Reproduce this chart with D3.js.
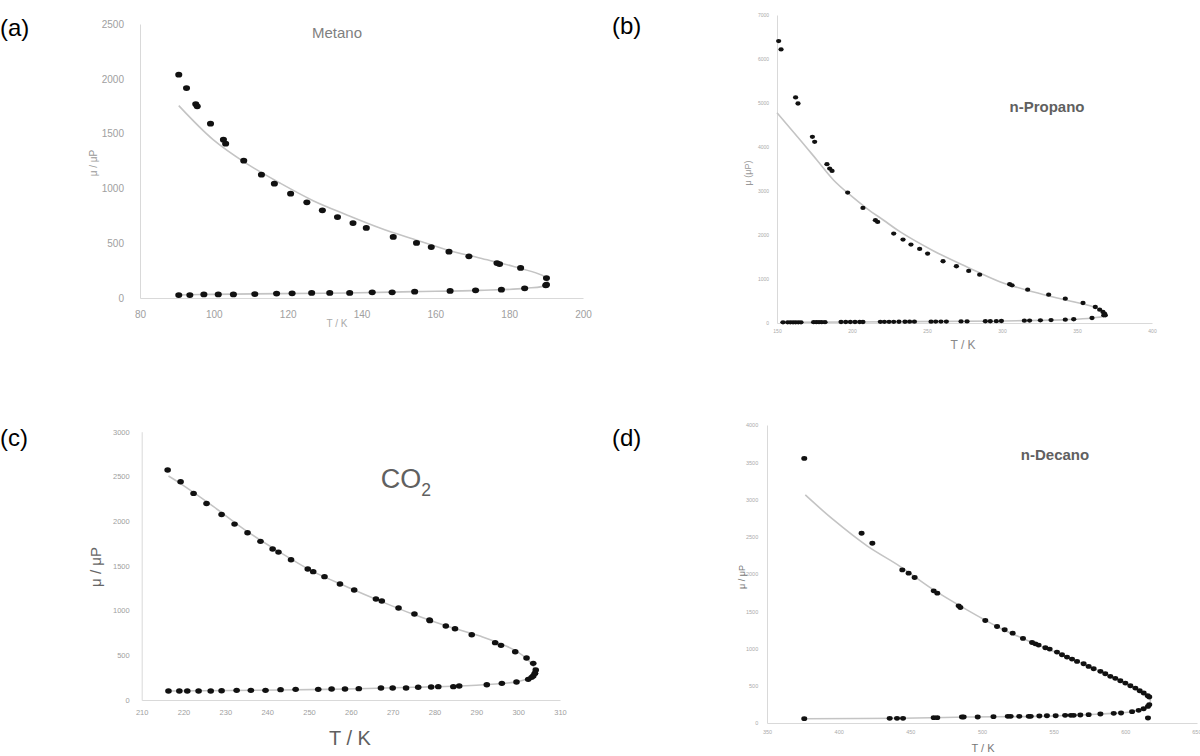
<!DOCTYPE html>
<html><head><meta charset="utf-8">
<script src="https://cdn.jsdelivr.net/npm/d3@7"></script>
<style>body{margin:0;background:#fff;} svg{display:block;font-family:"Liberation Sans",Arial,sans-serif;}</style>
</head><body>
<svg id="c" width="1200" height="756"></svg>
<script>
// ---------- (a) Metano ----------
const metLiqT  = [90.5,92.6,95.1,95.5,99.1,102.6,103.2,108.1,112.9,116.4,120.8,125.2,129.4,133.5,137.7,141.3,148.6,154.9,158.9,163.7,169.1,176.7,177.4,183.1,190.1];
const metLiqMu = [2038,1916,1770,1749,1590,1445,1408,1253,1125,1043,952,873,800,739,684,639,557,502,465,423,380,319,310,274,182];
const metVapT  = [90.5,93.5,97.3,101.2,105.3,111.1,117,121.2,126.5,131.4,136.8,142.9,148.3,154.4,164,170.9,177.9,184.2,189.9,190.1];
const metVapMu = [27,27,33,33,33,36,40,43,46,46,46,52,52,58,64,70,76,88,116,122];
const metFitT  = [90.5,99.8,108.9,117.9,126.9,135.9,145,154,163,172,181,190.1,190.1,184.2,172,154,136,118,99,90.5];
const metFitMu = [1755,1445,1226,1049,888,760,639,538,441,365,289,182,122,88,70,58,46,40,33,27];
const metXTicks = [80,100,120,140,160,180,200];
const metYTicks = [0,500,1000,1500,2000,2500];

// ---------- (b) n-Propano ----------
const proLiqT  = [151.1,152.7,162.4,164,173.6,175.1,183.3,185.1,186.7,197.1,207.3,215.6,217.1,227.8,234,239.3,245.1,250.4,260.7,269.6,277.8,285.1,305.1,306.7,317.1,331.1,342.2,354,362.2,365.1,367.3,368.4,368.9];
const proLiqMu = [6407,6217,5126,4989,4231,4117,3609,3510,3457,2965,2616,2335,2297,2032,1896,1782,1683,1577,1403,1289,1183,1099,880,857,758,644,553,455,364,303,250,212,174];
const proVapT  = [154,157.1,158.9,160.7,162.4,164.2,166,174.4,176.2,178,179.8,182,192.7,195.8,198.9,202,205.1,207.3,218.9,221.6,224.7,227.8,231.3,235.3,238.4,241.6,252.7,255.8,259.3,262.9,272.7,276.7,288.9,292.2,296.2,299.6,314.9,318.4,325.6,332.7,342.2,347.8,360,367.8];
const proVapMu = [15,15,15,15,15,15,15,18,18,18,18,18,22,22,22,22,22,22,26,26,26,26,28,28,30,30,30,32,32,32,36,36,40,40,42,45,52,55,60,66,76,85,114,174];
const proFitT  = [150,165.6,176.7,187.8,198.9,210,221.1,232.2,254.4,276.7,298.9,321.1,343.3,361.1,367.8,368.9,360,343,299,232,152];
const proFitMu = [4777,4155,3700,3245,2904,2601,2335,2070,1638,1274,933,705,516,364,250,174,114,76,45,30,15];
const proXTicks = [150,200,250,300,350,400];
const proYTicks = [0,1000,2000,3000,4000,5000,6000,7000];

// ---------- (c) CO2 ----------
const co2LiqT  = [216.2,219.3,222.4,225.5,229.1,232.2,235.3,238.4,241.3,242.7,245.7,249.7,251,253.7,257.4,260.8,266,267.4,271.4,275.2,278.8,278.9,282.7,284.9,288.9,294.5,295.9,299.3,302,303.6,304.2,304];
const co2LiqMu = [2571,2441,2310,2198,2075,1967,1870,1774,1688,1654,1569,1464,1435,1379,1297,1230,1129,1107,1028,961,894,887,827,797,730,641,611,540,469,410,335,298];
const co2VapT  = [216.4,219,220.9,223.6,226.5,229.1,232.7,236.1,239.6,243.2,246.8,252.2,255.4,258.6,261.9,267.2,270,273.2,276.1,279.2,280.9,284.5,285.9,292.5,296.1,299.6,302.4,303.2,303.6,304];
const co2VapMu = [101,101,101,101,101,104,108,108,108,116,119,119,123,123,127,134,134,134,142,145,149,149,157,171,186,201,231,253,268,298];
const co2FitT  = [216.4,219.2,227.1,235.1,243.1,251,259,267,274.9,282.9,290.9,298.8,302.8,304,303.8,302,298.8,290.9,274.9,259,243.1,216.4];
const co2FitMu = [2504,2422,2165,1889,1651,1435,1267,1107,958,827,715,566,428,335,268,231,197,168,142,123,112,101];
const co2XTicks = [210,220,230,240,250,260,270,280,290,300,310];
const co2YTicks = [0,500,1000,1500,2000,2500,3000];

// ---------- (d) n-Decano ----------
const decLiqT  = [376,416,423.5,444.4,448.8,453,466.3,468.8,483.7,484.9,502.3,510.5,515.8,521.4,528.6,534.9,537.2,539.5,544.2,547.2,552.3,555.8,559.3,562.8,566.3,570.9,574.4,577.9,582.6,586,589.5,593,596.5,600,603.5,607,610,612.8,615.6,616.7];
const decLiqMu = [3552,2547,2413,2055,2011,1953,1774,1743,1573,1550,1376,1296,1251,1206,1135,1081,1063,1046,1010,992,952,916,885,858,827,795,760,728,693,661,626,599,567,536,500,469,433,402,366,349];
const decVapT  = [376,435.6,440.7,444.9,466.3,468.8,486,487.2,497,508,518,520,526,532.6,534,540,545.3,551.4,558,562,564,568.6,574.4,582.6,591.9,597,604.7,609.3,612.8,615.8,616.7,615.8];
const decVapMu = [58,63,63,63,72,72,80,80,80,85,89,89,89,89,89,94,98,98,103,103,103,107,112,121,130,134,152,170,192,223,246,67];
const decFitT  = [376.7,396.5,419.8,443,466.3,489.5,512.8,536,559.3,582.6,605.8,616.7,616.7,612.8,604.7,582.6,536,489.5,444,376];
const decFitMu = [3061,2725,2377,2100,1787,1519,1273,1072,885,693,469,357,246,192,152,121,89,80,63,58];
const decXTicks = [350,400,450,500,550,600,650];
const decYTicks = [0,500,1000,1500,2000,2500,3000,3500,4000];

const svg = d3.select("#c");
const panels = [
  {tag:"(a)", tagX:0, tagY:36, title:"Metano", titleX:337, titleY:38, titleSize:15, titleW:"normal", titleFill:"#7f7f7f",
   x0:140, x1:583, y0:298, y1:24, xd:[80,200], yd:[0,2500], xt:metXTicks, yt:metYTicks, tickSize:10, tickFill:"#a0a0a0",
   ylab:"μ / μP", ylx:97, yly:163, ylSize:10, ylFill:"#999", xlab:"T / K", xlx:337, xly:327, xlSize:10, xlFill:"#aaa",
   liqT:metLiqT, liqMu:metLiqMu, vapT:metVapT, vapMu:metVapMu, fitT:metFitT, fitMu:metFitMu, r:3.2},
  {tag:"(b)", tagX:612, tagY:34, title:"n-Propano", titleX:1047, titleY:112, titleSize:15, titleW:"bold", titleFill:"#606060",
   x0:777, x1:1152, y0:323, y1:15, xd:[150,400], yd:[0,7000], xt:proXTicks, yt:proYTicks, tickSize:5, tickFill:"#aaa",
   ylab:"μ (μP)", ylx:751, yly:173, ylSize:9, ylFill:"#999", xlab:"T / K", xlx:963, xly:349, xlSize:12, xlFill:"#888",
   liqT:proLiqT, liqMu:proLiqMu, vapT:proVapT, vapMu:proVapMu, fitT:proFitT, fitMu:proFitMu, r:2.4},
  {tag:"(c)", tagX:0, tagY:446, title:"CO", titleX:406, titleY:488, titleSize:27, titleW:"normal", titleFill:"#606060",
   x0:141.7, x1:560, y0:700, y1:431.7, xd:[210,310], yd:[0,3000], xt:co2XTicks, yt:co2YTicks, tickSize:7.5, tickFill:"#a0a0a0",
   ylab:"μ / μP", ylx:101, yly:567, ylSize:15, ylFill:"#666", xlab:"T / K", xlx:350, xly:745, xlSize:20, xlFill:"#606060",
   liqT:co2LiqT, liqMu:co2LiqMu, vapT:co2VapT, vapMu:co2VapMu, fitT:co2FitT, fitMu:co2FitMu, r:3, sub:"2"},
  {tag:"(d)", tagX:612, tagY:446, title:"n-Decano", titleX:1055, titleY:460, titleSize:15, titleW:"bold", titleFill:"#606060",
   x0:767, x1:1197, y0:723, y1:425, xd:[350,650], yd:[0,4000], xt:decXTicks, yt:decYTicks, tickSize:5.5, tickFill:"#aaa",
   ylab:"μ / μP", ylx:745, yly:577, ylSize:9, ylFill:"#777", xlab:"T / K", xlx:983, xly:752, xlSize:11, xlFill:"#777",
   liqT:decLiqT, liqMu:decLiqMu, vapT:decVapT, vapMu:decVapMu, fitT:decFitT, fitMu:decFitMu, r:2.7}
];

panels.forEach(p => {
  const g = svg.append("g");
  const x = d3.scaleLinear().domain(p.xd).range([p.x0, p.x1]);
  const y = d3.scaleLinear().domain(p.yd).range([p.y0, p.y1]);

  svg.append("text").attr("x", p.tagX).attr("y", p.tagY).attr("font-size", 24)
     .attr("font-family", "Liberation Sans, Arial, sans-serif").attr("fill", "#000").text(p.tag);

  const xa = g.append("g").attr("transform", `translate(0,${p.y0})`)
     .call(d3.axisBottom(x).tickValues(p.xt).tickSize(0).tickPadding(p.tickSize*1.3).tickFormat(d3.format("d")));
  const ya = g.append("g").attr("transform", `translate(${p.x0},0)`)
     .call(d3.axisLeft(y).tickValues(p.yt).tickSize(0).tickPadding(p.tickSize*1.6).tickFormat(d3.format("d")));
  [xa, ya].forEach(a => {
    a.select(".domain").attr("stroke", "#d9d9d9").attr("stroke-width", 1);
    a.selectAll("text").attr("font-size", p.tickSize).attr("fill", p.tickFill)
      .attr("font-family", "Liberation Sans, Arial, sans-serif");
  });
  // last x tick label of a panel touching the page edge: keep it inside
  xa.selectAll(".tick text").filter(d => x(d) + 10 > 1200).attr("text-anchor", "end").attr("dx", 4);

  const fit = p.fitT.map((t, i) => [t, p.fitMu[i]]);
  g.append("path").datum(fit)
    .attr("d", d3.line().x(d => x(d[0])).y(d => y(d[1])).curve(d3.curveCatmullRom.alpha(0.5)))
    .attr("fill", "none").attr("stroke", "#c4c4c4").attr("stroke-width", 1.6);

  const pts = p.liqT.map((t, i) => [t, p.liqMu[i]]).concat(p.vapT.map((t, i) => [t, p.vapMu[i]]));
  g.selectAll("ellipse.pt").data(pts).join("ellipse").attr("class", "pt")
    .attr("cx", d => x(d[0])).attr("cy", d => y(d[1]))
    .attr("rx", p.r * 1.1).attr("ry", p.r * 0.9).attr("fill", "#111");

  const tt = svg.append("text").attr("x", p.titleX).attr("y", p.titleY).attr("text-anchor", "middle")
    .attr("font-size", p.titleSize).attr("font-weight", p.titleW).attr("fill", p.titleFill)
    .attr("font-family", "Liberation Sans, Arial, sans-serif").text(p.title);
  if (p.sub) tt.append("tspan").attr("dy", p.titleSize*0.3).attr("font-size", p.titleSize*0.65).text(p.sub);

  svg.append("text").attr("transform", `translate(${p.ylx},${p.yly}) rotate(-90)`).attr("text-anchor", "middle")
    .attr("font-size", p.ylSize).attr("fill", p.ylFill).attr("font-family", "Liberation Sans, Arial, sans-serif").text(p.ylab);
  svg.append("text").attr("x", p.xlx).attr("y", p.xly).attr("text-anchor", "middle")
    .attr("font-size", p.xlSize).attr("fill", p.xlFill).attr("font-family", "Liberation Sans, Arial, sans-serif").text(p.xlab);
});
</script>
</body></html>
